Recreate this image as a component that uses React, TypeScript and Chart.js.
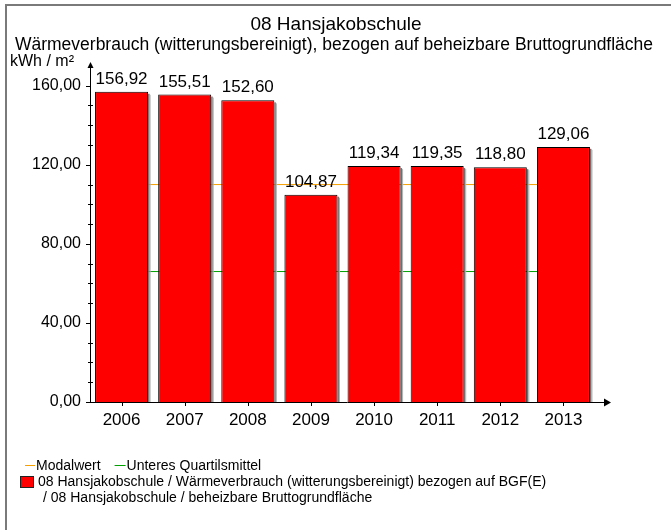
import React, { useEffect, useRef } from "react";
import { Chart, registerables } from "chart.js";

Chart.register(...registerables);

const years = ["2006", "2007", "2008", "2009", "2010", "2011", "2012", "2013"];
const consumption = [156.92, 155.51, 152.6, 104.87, 119.34, 119.35, 118.8, 129.06];
const modalwert = [110, 110, 110, 110, 110, 110, 110, 110];
const unteresQuartil = [66, 66, 66, 66, 66, 66, 66, 66];
const yTickLabels = [0, 40, 80, 120, 160];
const yMinorTicks = [0, 10, 20, 30, 40, 50, 60, 70, 80, 90, 100, 110, 120, 130, 140, 150, 160];

const titleText = "08 Hansjakobschule";
const subtitleText = "Wärmeverbrauch (witterungsbereinigt), bezogen auf beheizbare Bruttogrundfläche";
const unitText = "kWh / m²";
const legendModal = "Modalwert";
const legendQuartil = "Unteres Quartilsmittel";
const legendBar1 = "08 Hansjakobschule / Wärmeverbrauch (witterungsbereinigt) bezogen auf BGF(E)";
const legendBar2 = "/ 08 Hansjakobschule / beheizbare Bruttogrundfläche";

const FONT = "'Liberation Sans', Arial, sans-serif";
const ORANGE = "#f5a000";
const GREEN = "#00a000";
const fmt = (v: number) => v.toFixed(2).replace(".", ",");

const decorPlugin = {
  id: "decor",
  beforeDatasetDraw(chart: any, args: any) {
    if (args.index !== 0) return;
    const ctx = chart.ctx;
    const meta = chart.getDatasetMeta(0);
    ctx.save();
    meta.data.forEach((bar: any) => {
      const right = bar.x + bar.width / 2;
      ctx.fillStyle = "#707070";
      ctx.fillRect(right, bar.y + 2, 1.5, bar.base - bar.y - 2);
      ctx.fillStyle = "#b0b0b0";
      ctx.fillRect(right + 1.5, bar.y + 3, 1, bar.base - bar.y - 3);
    });
    ctx.restore();
  },
  afterDraw(chart: any) {
    const ctx = chart.ctx;
    const area = chart.chartArea;
    const yScale = chart.scales.y;
    const xScale = chart.scales.x;
    ctx.save();

    // frame
    ctx.strokeStyle = "#7a7a7a";
    ctx.lineWidth = 2;
    ctx.beginPath();
    ctx.moveTo(6, 530);
    ctx.lineTo(6, 5);
    ctx.lineTo(671, 5);
    ctx.stroke();

    // titles
    ctx.fillStyle = "#000";
    ctx.textAlign = "center";
    ctx.textBaseline = "middle";
    ctx.font = `19px ${FONT}`;
    ctx.fillText(titleText, 336, 25);
    ctx.font = `17.5px ${FONT}`;
    ctx.fillText(subtitleText, 334, 45);
    ctx.textAlign = "left";
    ctx.font = `16px ${FONT}`;
    ctx.fillText(unitText, 10, 62);

    // axes
    const x0 = area.left;
    const y0 = yScale.getPixelForValue(0);
    ctx.strokeStyle = "#000";
    ctx.lineWidth = 1;
    ctx.beginPath();
    ctx.moveTo(x0 + 0.5, y0);
    ctx.lineTo(x0 + 0.5, area.top + 3);
    ctx.moveTo(x0, y0 + 0.5);
    ctx.lineTo(area.right + 10, y0 + 0.5);
    ctx.stroke();
    ctx.fillStyle = "#000";
    ctx.beginPath();
    ctx.moveTo(x0 + 0.5, area.top);
    ctx.lineTo(x0 - 2.5, area.top + 6);
    ctx.lineTo(x0 + 3.5, area.top + 6);
    ctx.closePath();
    ctx.fill();
    ctx.beginPath();
    ctx.moveTo(area.right + 16, y0 + 0.5);
    ctx.lineTo(area.right + 9, y0 - 3.5);
    ctx.lineTo(area.right + 9, y0 + 4.5);
    ctx.closePath();
    ctx.fill();

    // y ticks
    ctx.beginPath();
    yMinorTicks.forEach((v) => {
      const py = Math.round(yScale.getPixelForValue(v)) + 0.5;
      if (yTickLabels.includes(v)) {
        ctx.moveTo(x0 - 4, py);
        ctx.lineTo(x0 + 1, py);
      } else {
        ctx.moveTo(x0 - 2, py);
        ctx.lineTo(x0 + 3, py);
      }
    });
    ctx.stroke();
    ctx.font = `16px ${FONT}`;
    ctx.textAlign = "right";
    ctx.textBaseline = "middle";
    yTickLabels.forEach((v) => {
      ctx.fillText(fmt(v), x0 - 9, yScale.getPixelForValue(v));
    });

    // x ticks and labels
    ctx.beginPath();
    years.forEach((_, i) => {
      const px = Math.round(xScale.getPixelForValue(i)) + 0.5;
      ctx.moveTo(px, y0);
      ctx.lineTo(px, y0 + 4);
    });
    ctx.stroke();
    ctx.font = `17px ${FONT}`;
    ctx.textAlign = "center";
    years.forEach((yr, i) => {
      ctx.fillText(yr, xScale.getPixelForValue(i), y0 + 18);
    });

    // value labels
    const meta = chart.getDatasetMeta(0);
    ctx.textBaseline = "alphabetic";
    meta.data.forEach((bar: any, i: number) => {
      ctx.fillText(fmt(consumption[i]), bar.x, bar.y - 8);
    });

    // legend
    ctx.font = `14px ${FONT}`;
    ctx.textAlign = "left";
    ctx.textBaseline = "middle";
    ctx.lineWidth = 1;
    ctx.strokeStyle = ORANGE;
    ctx.beginPath();
    ctx.moveTo(25, 465.5);
    ctx.lineTo(35, 465.5);
    ctx.stroke();
    ctx.fillText(legendModal, 36, 466);
    const wModal = ctx.measureText(legendModal).width;
    const qx = 36 + wModal + 14;
    ctx.strokeStyle = GREEN;
    ctx.beginPath();
    ctx.moveTo(qx, 465.5);
    ctx.lineTo(qx + 11, 465.5);
    ctx.stroke();
    ctx.fillText(legendQuartil, qx + 12, 466);

    ctx.fillStyle = "#ff0000";
    ctx.fillRect(21, 477, 12, 10);
    ctx.strokeStyle = "#222";
    ctx.strokeRect(20.5, 476.5, 13, 11);
    ctx.fillStyle = "#000";
    ctx.fillText(legendBar1, 38, 482);
    ctx.fillText(legendBar2, 43, 498);

    ctx.restore();
  },
};

export default function App() {
  const ref = useRef<HTMLCanvasElement | null>(null);
  useEffect(() => {
    if (!ref.current) return;
    const chart = new Chart(ref.current, {
      type: "bar",
      data: {
        labels: years,
        datasets: [
          {
            type: "bar",
            label: legendBar1,
            data: consumption,
            backgroundColor: "#ff0000",
            borderColor: "#000000",
            borderWidth: 1,
            barPercentage: 0.84,
            categoryPercentage: 1,
            order: 0,
          },
          {
            type: "line",
            label: legendModal,
            data: modalwert,
            borderColor: ORANGE,
            borderWidth: 1,
            pointRadius: 0,
            order: 1,
          },
          {
            type: "line",
            label: legendQuartil,
            data: unteresQuartil,
            borderColor: GREEN,
            borderWidth: 1,
            pointRadius: 0,
            order: 2,
          },
        ],
      } as any,
      options: {
        animation: false,
        responsive: false,
        devicePixelRatio: 1,
        layout: { padding: { left: 90, right: 76, top: 62, bottom: 128 } },
        plugins: { legend: { display: false }, title: { display: false }, tooltip: { enabled: false } },
        scales: {
          x: { display: false, offset: true },
          y: { display: false, min: 0, max: 172 },
        },
      },
      plugins: [decorPlugin],
    });
    return () => chart.destroy();
  }, []);
  return (
    <div style={{ position: "absolute", left: 0, top: 0, width: 671, height: 530, background: "#fff" }}>
      <canvas ref={ref} width={671} height={530} style={{ width: 671, height: 530, display: "block" }} />
    </div>
  );
}
